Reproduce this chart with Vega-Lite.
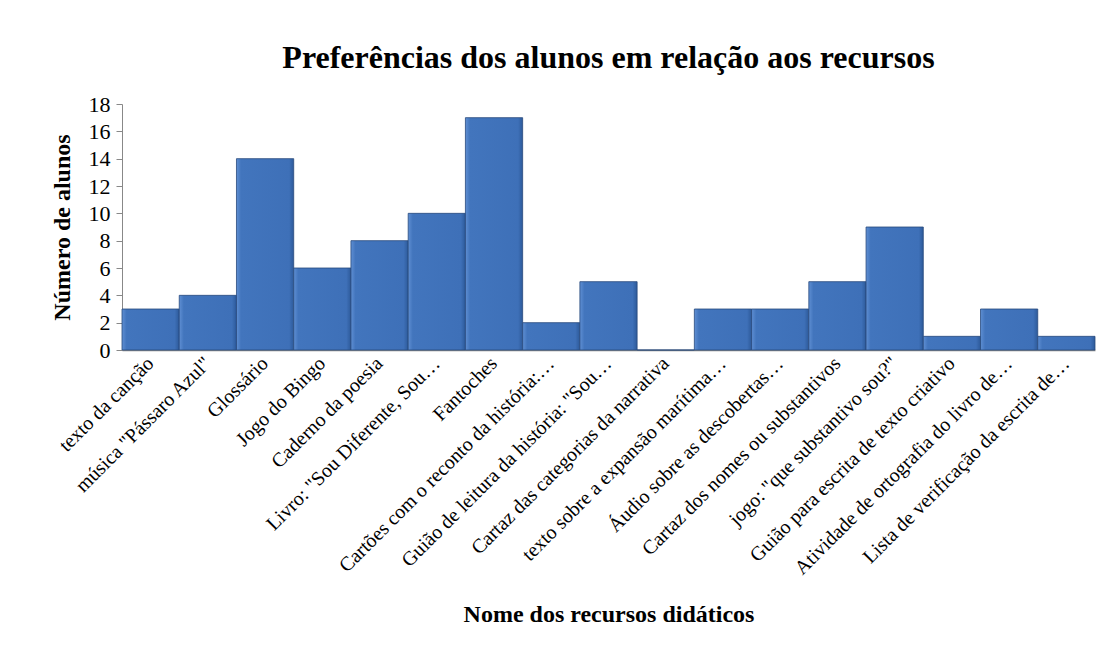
{
  "$schema": "https://vega.github.io/schema/vega-lite/v6.json",
  "autosize": "none",
  "width": 973,
  "height": 246,
  "padding": {"left": 122, "top": 104, "right": 15, "bottom": 303},
  "background": "white",
  "title": {
    "text": "Preferências dos alunos em relação aos recursos",
    "font": "Liberation Serif",
    "fontSize": 32,
    "fontWeight": "bold",
    "color": "black",
    "anchor": "middle",
    "offset": 18
  },
  "config": {
    "view": {"stroke": null},
    "axis": {"labelFont": "Liberation Serif", "titleFont": "Liberation Serif", "labelColor": "black", "titleColor": "black", "grid": false}
  },
  "data": {
    "values": [
      {"recurso": "texto da canção", "n": 3},
      {"recurso": "música \"Pássaro Azul\"", "n": 4},
      {"recurso": "Glossário", "n": 14},
      {"recurso": "Jogo do Bingo", "n": 6},
      {"recurso": "Caderno da poesia", "n": 8},
      {"recurso": "Livro: \"Sou Diferente, Sou…", "n": 10},
      {"recurso": "Fantoches", "n": 17},
      {"recurso": "Cartões com o reconto da história:…", "n": 2},
      {"recurso": "Guião de leitura da história: \"Sou…", "n": 5},
      {"recurso": "Cartaz das categorias da narrativa", "n": 0},
      {"recurso": "texto sobre a expansão marítima…", "n": 3},
      {"recurso": "Áudio sobre as descobertas…", "n": 3},
      {"recurso": "Cartaz dos nomes ou substantivos", "n": 5},
      {"recurso": "jogo: \"que substantivo sou?\"", "n": 9},
      {"recurso": "Guião para escrita de texto criativo", "n": 1},
      {"recurso": "Atividade de ortografia do livro de…", "n": 3},
      {"recurso": "Lista de verificação da escrita de…", "n": 1}
    ]
  },
  "mark": {
    "type": "bar",
    "color": {
      "gradient": "linear",
      "x1": 0, "y1": 0, "x2": 1, "y2": 0,
      "stops": [
        {"offset": 0, "color": "#5f8fd3"},
        {"offset": 0.08, "color": "#4275bd"},
        {"offset": 0.92, "color": "#3e70b8"},
        {"offset": 1, "color": "#2d5a9a"}
      ]
    },
    "stroke": "#27497c",
    "strokeWidth": 0.8
  },
  "encoding": {
    "x": {
      "field": "recurso",
      "type": "nominal",
      "sort": null,
      "scale": {"paddingInner": 0, "paddingOuter": 0},
      "axis": {
        "title": "Nome dos recursos didáticos",
        "titleFontSize": 24,
        "titleFontWeight": "bold",
        "titleY": 252,
        "labelAngle": -45,
        "labelAlign": "right",
        "labelBaseline": "middle",
        "labelFontSize": 20,
        "labelLimit": 400,
        "labelPadding": 10,
        "ticks": false,
        "domainColor": "#888888",
        "domainWidth": 1.5
      }
    },
    "y": {
      "field": "n",
      "type": "quantitative",
      "scale": {"domain": [0, 18]},
      "axis": {
        "title": "Número de alunos",
        "titleFontSize": 24,
        "titleFontWeight": "bold",
        "titlePadding": 14,
        "values": [0, 2, 4, 6, 8, 10, 12, 14, 16, 18],
        "labelFontSize": 22,
        "labelPadding": 6,
        "tickSize": 6,
        "tickColor": "#888888",
        "domainColor": "#888888"
      }
    }
  }
}
